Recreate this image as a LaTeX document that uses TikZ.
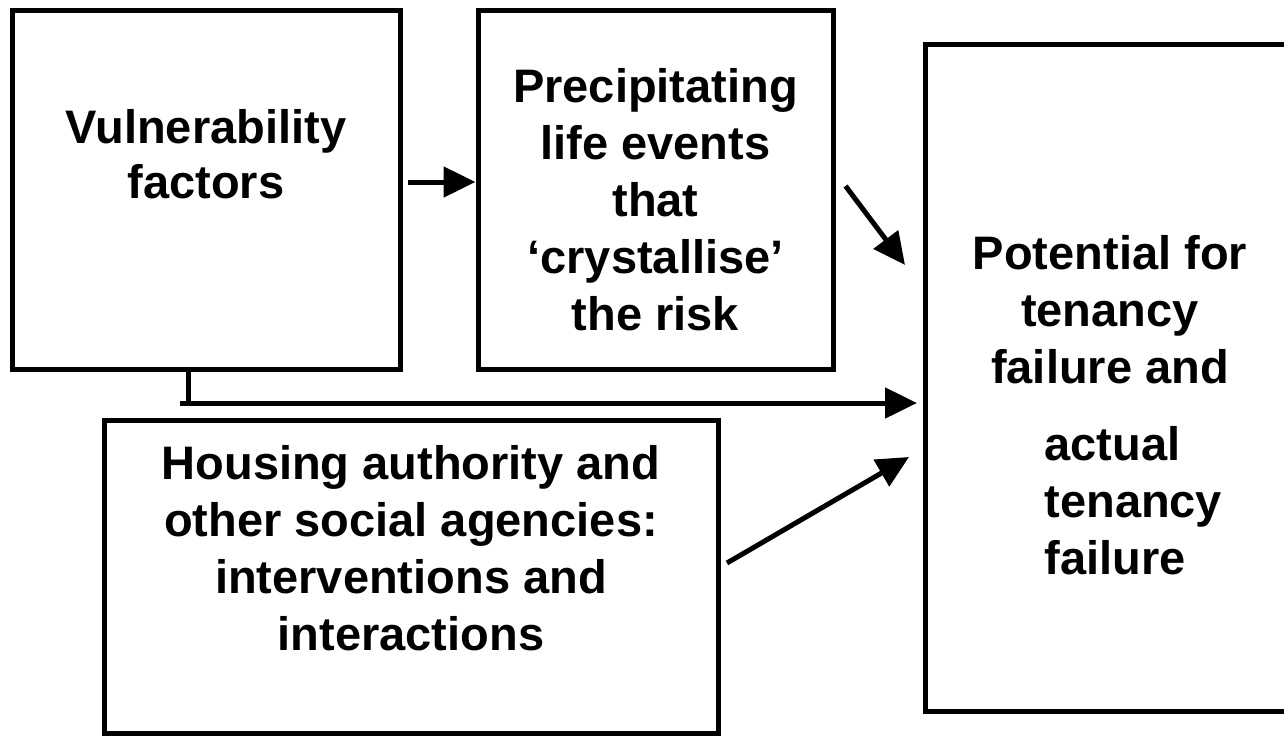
\documentclass[tikz,border=0pt]{standalone}
\usepackage{fontspec}
\setmainfont{Liberation Sans}
\usetikzlibrary{arrows.meta}

\begin{document}
\begin{tikzpicture}[x=1pt, y=-1pt, line width=5pt,
  box/.style={draw, rectangle, inner sep=0pt},
  txt/.style={font=\bfseries\fontsize{47}{#1}\selectfont, align=center, anchor=base, inner sep=0pt},
  txt/.default=57,
  arr/.style={-{Triangle[length=32pt, width=30pt]}}]
\useasboundingbox (0,0) rectangle (1284,736);
% Boites
\node[box, minimum width=388pt, minimum height=359pt] (vuln) at (206,189.5) {};
\node[box, minimum width=355pt, minimum height=359pt] (precip) at (655.5,189.5) {};
\node[box, minimum width=367pt, minimum height=667pt] (potential) at (1108.5,377.5) {};
\node[box, minimum width=614pt, minimum height=313pt] (housing) at (411,576.5) {};
% Textes (ancre sur la derniere ligne)
\node[txt=55] (vulntext) at (206,198) {Vulnerability\\factors};
\node[txt] (preciptext) at (655.5,330) {Precipitating\\life events\\that\\‘crystallise’\\the risk};
\node[txt] (pottext) at (1110,383) {Potential for\\tenancy\\failure and};
\node[txt, align=left, anchor=base west] (acttext) at (1042,574) {actual\\tenancy\\failure};
\node[txt] (housingtext) at (411,650) {Housing authority and\\other social agencies:\\interventions and\\interactions};
% Fleches
\coordinate (tee) at (180,403);
\draw[arr] ([shift={(5.5pt,7.5pt)}]vuln.east) -- ([yshift=7.5pt]precip.west);
\draw[arr] ([shift={(10pt,3.5pt)}]precip.east) -- ([shift={(-17.5pt,112.5pt)}]potential.west);
\draw ([xshift=-18pt]vuln.south) -- ++(0,34);
\draw[arr, shorten >=5.5pt] (tee) -- (tee -| potential.west);
\draw[arr] ([shift={(6.5pt,13.5pt)}]housing.east) -- ([shift={(-13.5pt,-79.5pt)}]potential.west);
\end{tikzpicture}
\end{document}
